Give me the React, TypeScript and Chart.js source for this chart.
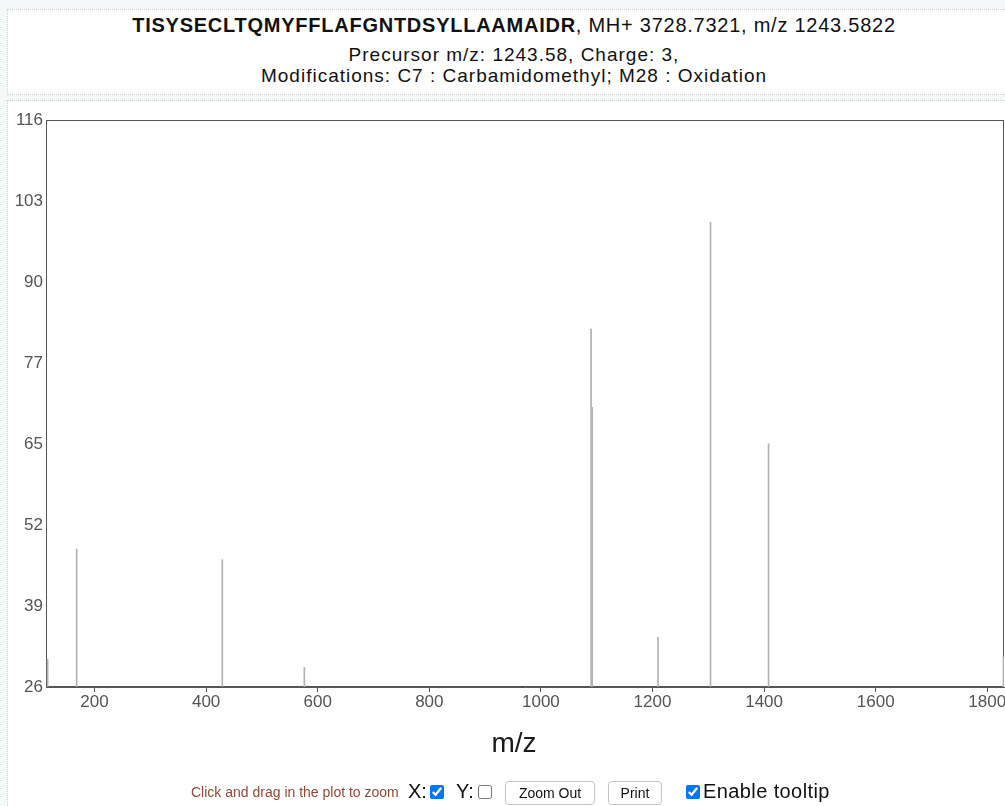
import React, { useEffect, useRef } from "react";
import { Chart, registerables } from "chart.js";

Chart.register(...registerables);

// ---- data ----
const PEAK_MZ = [116, 168, 429, 576, 1090, 1092, 1210, 1304, 1408, 1829];
const PEAK_INTENSITY = [30.4, 47.9, 46.2, 29.1, 82.8, 70.4, 33.9, 99.8, 64.6, 30.8];
const X_TICKS = [200, 400, 600, 800, 1000, 1200, 1400, 1600, 1800];
const Y_TICK_LABELS = [26, 39, 52, 65, 77, 90, 103, 116];
const X_MIN = 113;
const X_MAX = 1830;
const Y_MIN = 26;
const Y_MAX = 116;

const TITLE_SEQ = "TISYSECLTQMYFFLAFGNTDSYLLAAMAIDR";
const TITLE_REST = ", MH+ 3728.7321, m/z 1243.5822";
const SUB_1 = "Precursor m/z: 1243.58, Charge: 3,";
const SUB_2 = "Modifications: C7 : Carbamidomethyl; M28 : Oxidation";

const FONT = '"Liberation Sans", Arial, Helvetica, sans-serif';
const AXIS = "#555555";

const framePlugin = {
  id: "frame",
  beforeDatasetsDraw(chart: any) {
    const { ctx, chartArea } = chart;
    const l = Math.round(chartArea.left) + 0.5;
    const t = Math.round(chartArea.top) + 0.5;
    const r = Math.round(chartArea.right) - 0.5;
    const b = Math.round(chartArea.bottom) - 0.5;
    ctx.save();
    ctx.strokeStyle = AXIS;
    ctx.lineWidth = 1;
    ctx.strokeRect(l, t, r - l, b - t);
    ctx.restore();
  },
};

export default function App() {
  const ref = useRef<HTMLCanvasElement | null>(null);

  useEffect(() => {
    if (!ref.current) return;
    const chart = new Chart(ref.current, {
      type: "bar",
      data: {
        datasets: [
          {
            data: PEAK_MZ.map((x, i) => ({ x, y: PEAK_INTENSITY[i] })),
            backgroundColor: "#b2b2b2",
            borderWidth: 0,
            barThickness: 1,
            base: Y_MIN,
          } as any,
        ],
      },
      options: {
        animation: false,
        responsive: false,
        devicePixelRatio: 1,
        layout: { padding: { left: 8, top: 120, right: 36, bottom: 89 } },
        plugins: { legend: { display: false }, tooltip: { enabled: false } },
        scales: {
          x: {
            type: "linear",
            min: X_MIN,
            max: X_MAX,
            offset: false,
            afterBuildTicks: (s: any) => {
              s.ticks = X_TICKS.map((v) => ({ value: v }));
            },
            afterFit: (s: any) => {
              s.height = 30;
            },
            grid: { offset: false, drawOnChartArea: false, tickLength: 5, color: AXIS, tickColor: AXIS },
            border: { color: AXIS },
            ticks: {
              autoSkip: false,
              maxRotation: 0,
              padding: 0,
              color: "#545454",
              font: { family: FONT, size: 17 },
              callback: (v: any) => String(v),
            },
          },
          y: {
            type: "linear",
            min: Y_MIN,
            max: Y_MAX,
            afterBuildTicks: (s: any) => {
              const n = Y_TICK_LABELS.length;
              s.ticks = Y_TICK_LABELS.map((_, i) => ({ value: Y_MIN + (i * (Y_MAX - Y_MIN)) / (n - 1) }));
            },
            afterFit: (s: any) => {
              s.width = 38;
            },
            grid: { drawOnChartArea: false, drawTicks: false },
            border: { color: AXIS },
            ticks: {
              autoSkip: false,
              padding: 3,
              color: "#545454",
              font: { family: FONT, size: 17 },
              callback: (_v: any, i: number) => String(Y_TICK_LABELS[i]),
            },
          },
        },
      },
      plugins: [framePlugin],
    });
    return () => chart.destroy();
  }, []);

  const abs = (o: React.CSSProperties): React.CSSProperties => ({ position: "absolute", ...o });

  return (
    <div
      style={{
        position: "fixed",
        left: 0,
        top: 0,
        width: 1005,
        height: 806,
        overflow: "hidden",
        background: "#f4f8f9",
        fontFamily: FONT,
        color: "#111",
      }}
    >
      <div style={abs({ left: 7, top: 9, width: 1012, height: 84, background: "#fff", border: "1px dotted #cfcfcf" })} />
      <div style={abs({ left: 7, top: 100, width: 1012, height: 720, background: "#fff", border: "1px dotted #cfcfcf" })} />

      <div style={abs({ left: 7, width: 1014, top: 14, lineHeight: "22px", fontSize: 20, letterSpacing: "0.75px", textAlign: "center", whiteSpace: "nowrap" })}>
        <b>{TITLE_SEQ}</b>
        {TITLE_REST}
      </div>
      <div style={abs({ left: 7, width: 1014, top: 44, lineHeight: "21px", fontSize: 19, letterSpacing: "1px", textAlign: "center", whiteSpace: "nowrap" })}>
        {SUB_1}
      </div>
      <div style={abs({ left: 7, width: 1014, top: 65, lineHeight: "21px", fontSize: 19, letterSpacing: "1px", textAlign: "center", whiteSpace: "nowrap" })}>
        {SUB_2}
      </div>

      <canvas ref={ref} width={1040} height={806} style={abs({ left: 0, top: 0, width: 1040, height: 806 })} />

      <div style={abs({ left: 414, width: 200, top: 727, lineHeight: "32px", fontSize: 28, textAlign: "center", color: "#1a1a1a" })}>
        m/z
      </div>

      <div style={abs({ left: 191, top: 784, fontSize: 14, lineHeight: "17px", color: "#8e4a36", whiteSpace: "nowrap" })}>
        Click and drag in the plot to zoom
      </div>
      <div style={abs({ left: 408, top: 780, fontSize: 20, lineHeight: "23px" })}>X:</div>
      <input type="checkbox" defaultChecked style={abs({ left: 430, top: 785, width: 14, height: 14, margin: 0 })} />
      <div style={abs({ left: 456, top: 780, fontSize: 20, lineHeight: "23px" })}>Y:</div>
      <input type="checkbox" style={abs({ left: 478, top: 785, width: 14, height: 14, margin: 0 })} />
      <button
        style={abs({ left: 505, top: 781, width: 90, height: 24, background: "#fff", border: "1px solid #c4c4c4", borderRadius: 4, fontSize: 14, fontFamily: FONT, padding: 0, color: "#111" })}
      >
        Zoom Out
      </button>
      <button
        style={abs({ left: 608, top: 781, width: 54, height: 24, background: "#fff", border: "1px solid #c4c4c4", borderRadius: 4, fontSize: 14, fontFamily: FONT, padding: 0, color: "#111" })}
      >
        Print
      </button>
      <input type="checkbox" defaultChecked style={abs({ left: 686, top: 785, width: 14, height: 14, margin: 0 })} />
      <div style={abs({ left: 703, top: 780, fontSize: 20, lineHeight: "23px", letterSpacing: "0.4px", whiteSpace: "nowrap" })}>Enable tooltip</div>
    </div>
  );
}
